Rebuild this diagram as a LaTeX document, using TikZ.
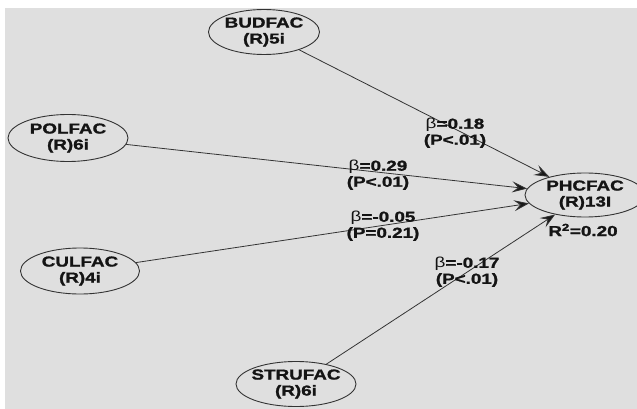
\documentclass[tikz,border=0pt]{standalone}
\usepackage{fontspec}
\setmainfont{Liberation Sans}[BoldFeatures={FakeBold=1.2}]
\usepackage{graphicx}
\usetikzlibrary{arrows.meta,shapes.geometric}
\definecolor{bg}{HTML}{DFDFDF}
\definecolor{ink}{HTML}{333333}
\newcommand{\wt}[1]{\scalebox{1.3}[1]{#1}}
\begin{document}
\begin{tikzpicture}[x=1pt,y=-1pt,
  ell/.style={ellipse,draw=ink,line width=0.9pt,inner sep=0pt},
  lbl/.style={font=\fontsize{14.5}{16}\selectfont\bfseries,align=center,text=black!92,inner sep=0pt},
  conn/.style={draw=ink,line width=0.8pt,-{Stealth[length=15pt,width=11pt,inset=6pt,fill=black!90]}}]
\useasboundingbox (0,0) rectangle (637,409);
\clip (0,0) rectangle (637,409);
\fill[bg] (5,8) rectangle (637,409);
% latent variable ellipses
\node[ell,minimum width=111pt,minimum height=45pt] (bud) at (264,32) {};
\node[ell,minimum width=120pt,minimum height=47pt] (pol) at (68,138) {};
\node[ell,minimum width=119pt,minimum height=46pt] (cul) at (80,271) {};
\node[ell,minimum width=120pt,minimum height=45pt] (stru) at (296,384) {};
\node[ell,minimum width=120pt,minimum height=44pt] (ph) at (585,195) {};
% names
\node[lbl] (budt) at (bud) {\wt{BUDFAC}\\\wt{(R)5i}};
\node[lbl] (polt) at (pol) {\wt{POLFAC}\\\wt{(R)6i}};
\node[lbl] (cult) at (cul) {\wt{CULFAC}\\\wt{(R)4i}};
\node[lbl] (strut) at (stru) {\wt{STRUFAC}\\\wt{(R)6i}};
\node[lbl] (pht) at (ph) {\wt{PHCFAC}\\\wt{(R)13I}};
\node[lbl] (r2) at (583,230) {\wt{R\textsuperscript{2}=0.20}};
% paths
\draw[conn] (bud) -- (ph);
\draw[conn] (pol) -- (ph);
\draw[conn] (cul) -- (ph);
\draw[conn] (stru) -- (ph);
% coefficients
\node[lbl] (cb) at (455,133) {\wt{{\mdseries β}=0.18}\\\wt{(P<.01)}};
\node[lbl] (cp) at (378,175) {\wt{{\mdseries β}=0.29}\\\wt{(P<.01)}};
\node[lbl] (cc) at (383,226) {\wt{{\mdseries β}=-0.05}\\\wt{(P=0.21)}};
\node[lbl] (cs) at (467,272) {\wt{{\mdseries β}=-0.17}\\\wt{(P<.01)}};
\end{tikzpicture}
\end{document}
